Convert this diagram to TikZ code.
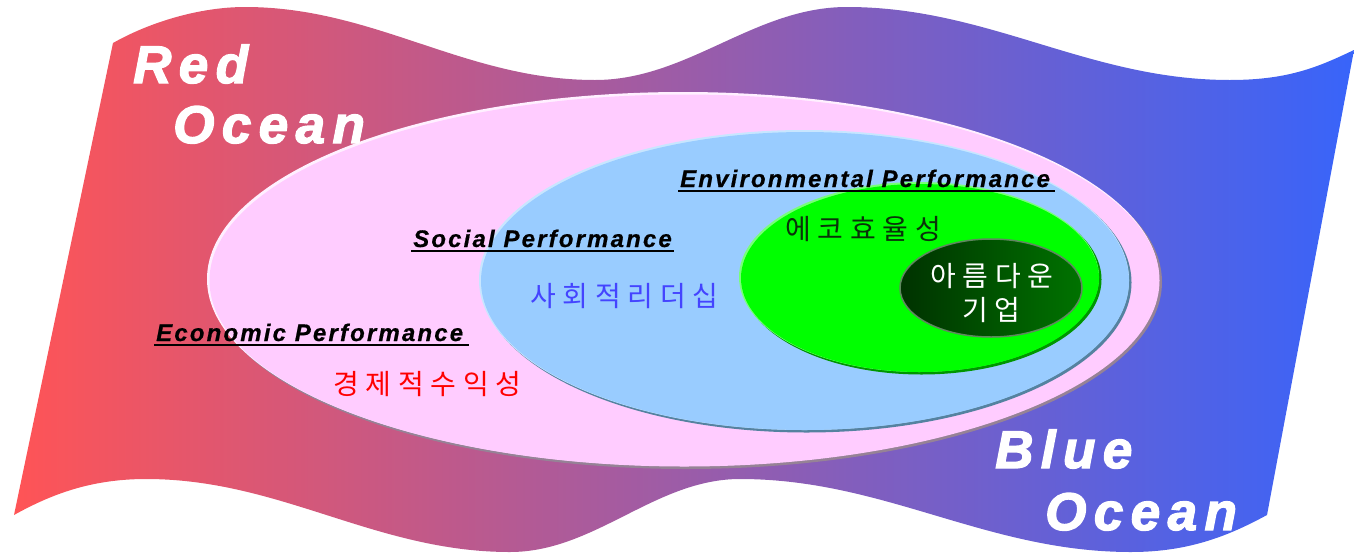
\documentclass[tikz,border=0pt]{standalone}
\usepackage{fontspec}
\setmainfont{Liberation Sans}
\newfontfamily\oceanfont[LetterSpace=14,FakeBold=2.5]{Liberation Sans}
\newfontfamily\perffont[LetterSpace=9,FakeBold=0.6]{Liberation Sans}
\newfontfamily\krfont[LetterSpace=24]{Noto Sans CJK KR}
\definecolor{redL}{RGB}{255,84,86}
\definecolor{blueR}{RGB}{56,100,250}
\definecolor{pinkF}{RGB}{255,204,255}
\definecolor{pinkSh}{RGB}{150,130,150}
\definecolor{skyF}{RGB}{153,204,255}
\definecolor{skySh}{RGB}{85,130,160}
\definecolor{skyHi}{RGB}{200,230,255}
\definecolor{greenF}{RGB}{0,255,0}
\definecolor{greenSh}{RGB}{0,150,0}
\definecolor{greenHi}{RGB}{120,255,120}
\definecolor{dkL}{RGB}{0,50,0}
\definecolor{dkR}{RGB}{0,115,0}
\definecolor{dkEdge}{RGB}{95,135,95}
\definecolor{krblue}{RGB}{68,68,255}
\definecolor{krgreen}{RGB}{10,50,10}
\tikzset{
  oceanlbl/.style={inner sep=0pt, anchor=base west, text=white,
    font=\oceanfont\bfseries\itshape\fontsize{53}{60}\selectfont},
  perflbl/.style={inner sep=0pt, anchor=base west, text=black,
    font=\perffont\bfseries\itshape\fontsize{24}{28}\selectfont},
  krlbl/.style={inner sep=0pt, anchor=center,
    font=\krfont\fontsize{28}{32}\selectfont},
  uline/.style={black, line width=1.4pt}
}
\begin{document}
\begin{tikzpicture}[x=1pt,y=-1pt]
\useasboundingbox (0,0) rectangle (1354,552);
% flag
\path[left color=redL, right color=blueR]
  (113,43) .. controls (150,22) and (200,7) .. (245,7)
  .. controls (375,7) and (465,80) .. (595,80)
  .. controls (688,80) and (754,7) .. (847,7)
  .. controls (989,7) and (1088,80) .. (1230,80)
  .. controls (1290,80) and (1320,66) .. (1354,50)
  -- (1267,515)
  .. controls (1230,535) and (1190,552) .. (1131,552)
  .. controls (986,552) and (885,479) .. (740,479)
  .. controls (655,479) and (595,552) .. (510,552)
  .. controls (375,552) and (281,479) .. (146,479)
  .. controls (90,479) and (50,495) .. (14,515) -- cycle;
% pink ellipse
\fill[pinkSh] (686,282) ellipse [x radius=476, y radius=187];
\fill[white!70!pinkF] (683,279) ellipse [x radius=476, y radius=187];
\fill[pinkF] (684.5,280.5) ellipse [x radius=475, y radius=186];
% blue ellipse
\fill[skySh] (806.5,282.5) ellipse [x radius=325, y radius=150];
\fill[skyHi] (804,280) ellipse [x radius=325, y radius=150];
\fill[skyF] (805,281) ellipse [x radius=324, y radius=149];
% green ellipse
\fill[greenSh] (921.5,279.5) ellipse [x radius=180, y radius=95];
\fill[greenHi] (919,277) ellipse [x radius=180, y radius=95];
\fill[greenF] (920,278) ellipse [x radius=179, y radius=94];
% dark green ellipse
\path[draw=dkEdge, line width=1.5pt, left color=dkL, right color=dkR]
  (991,288) ellipse [x radius=91, y radius=49];
% ocean labels
\node[oceanlbl] (red1) at (133,83) {Red};
\node[oceanlbl] (red2) at (173,143) {Ocean};
\node[oceanlbl] (blue1) at (995,468) {Blue};
\node[oceanlbl] (blue2) at (1045,530) {Ocean};
% performance labels
\node[perflbl] (env) at (680,187) {Environmental Performance};
\draw[uline] (678,191) -- (1055,191);
\node[perflbl] (soc) at (413,247) {Social Performance};
\draw[uline] (411,251) -- (674,251);
\node[perflbl] (eco) at (156,341) {Economic Performance};
\draw[uline] (154,345) -- (469,345);
% korean labels
\node[krlbl, text=krgreen, anchor=west] (eco2) at (785,229) {에코효율성};
\node[krlbl, text=krblue, anchor=west] (soc2) at (530,296) {사회적리더십};
\node[krlbl, text=red, anchor=west] (eco3) at (333,384) {경제적수익성};
\node[krlbl, text=white, anchor=west] (bea1) at (930,276) {아름다운};
\node[krlbl, text=white, anchor=west] (bea2) at (962,310) {기업};
\end{tikzpicture}
\end{document}
